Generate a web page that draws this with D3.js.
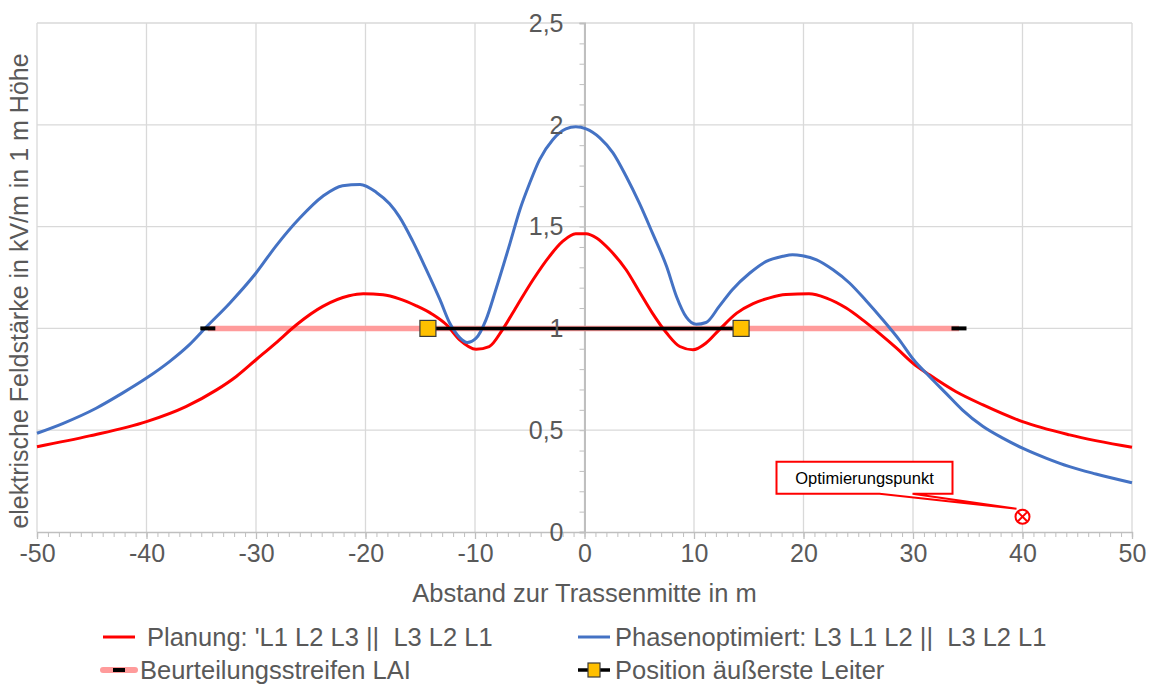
<!DOCTYPE html>
<html>
<head>
<meta charset="utf-8">
<script src="https://cdn.jsdelivr.net/npm/d3@7"></script>
<style>
  html, body { margin: 0; padding: 0; background: #fff; }
  svg { display: block; font-family: "Liberation Sans", Arial, sans-serif; }
  text { white-space: pre; }
</style>
</head>
<body>
<svg id="chart" width="1149" height="686"></svg>
<script>
// Abstand zur Trassenmitte (m) und elektrische Feldstärke (kV/m), Planung
const planungX = [-50, -45.2, -40, -36.4, -33.6, -31.8, -30, -28.2, -26.3, -23.9, -21.5, -20.2, -18.4, -16.9, -15.4, -13.9, -12.6, -11.4, -9.9, -8.7, -7.5, -6.2, -4.7, -3.2, -2.0, -0.8, 0.15, 1.1, 2.3, 3.8, 5.0, 6.2, 7.5, 8.7, 9.9, 11.1, 12.3, 13.9, 15.4, 16.9, 18.4, 20.5, 22.1, 23.9, 25.4, 26.9, 28.5, 30, 31.5, 33.9, 36.4, 40, 44.3, 50];
const planungY = [0.419, 0.472, 0.542, 0.616, 0.698, 0.764, 0.846, 0.928, 1.018, 1.108, 1.160, 1.170, 1.165, 1.145, 1.112, 1.070, 1.018, 0.944, 0.898, 0.911, 0.993, 1.108, 1.239, 1.354, 1.427, 1.465, 1.465, 1.444, 1.386, 1.288, 1.181, 1.075, 0.977, 0.911, 0.895, 0.928, 0.993, 1.075, 1.122, 1.150, 1.166, 1.170, 1.149, 1.100, 1.042, 0.977, 0.903, 0.829, 0.772, 0.690, 0.624, 0.542, 0.477, 0.416];

// Phasenoptimierte Anordnung
const optimiertX = [-50, -47.6, -44.6, -42.2, -40, -37.9, -36.1, -34.5, -32.4, -30, -28.2, -26, -23.9, -22.1, -20.5, -19, -17.8, -16.9, -15.7, -14.5, -13.2, -12.3, -11.4, -10.7, -9.9, -9.0, -8.1, -6.8, -5.9, -5.0, -4.1, -2.9, -1.7, -0.8, 0.15, 1.4, 2.6, 3.8, 5.0, 6.2, 7.5, 8.4, 9.3, 10.2, 11.1, 12.3, 13.5, 15.1, 16.6, 18.1, 19.0, 19.9, 21.2, 22.7, 24.2, 25.7, 27.2, 28.8, 30, 31.5, 33, 34.5, 36.4, 38.2, 40, 42.2, 44.3, 46.7, 50];
const optimiertY = [0.485, 0.534, 0.608, 0.682, 0.756, 0.837, 0.919, 1.009, 1.124, 1.272, 1.403, 1.542, 1.649, 1.701, 1.707, 1.668, 1.612, 1.548, 1.430, 1.295, 1.141, 1.025, 0.955, 0.931, 0.952, 1.042, 1.190, 1.419, 1.583, 1.714, 1.829, 1.927, 1.980, 1.990, 1.980, 1.936, 1.862, 1.747, 1.616, 1.469, 1.304, 1.157, 1.055, 1.020, 1.029, 1.108, 1.190, 1.272, 1.329, 1.354, 1.362, 1.357, 1.337, 1.288, 1.223, 1.137, 1.045, 0.940, 0.850, 0.764, 0.682, 0.600, 0.518, 0.461, 0.412, 0.362, 0.321, 0.285, 0.242];

// Beurteilungsstreifen nach LAI (Grenzwertlinie 1 kV/m)
const laiX = [-34.4, 34.2];
const laiY = [1, 1];

// Position der äußersten Leiter
const leiterX = [-14.3, 14.3];
const leiterY = [1, 1];

// Optimierungspunkt
const optPunktX = [40];
const optPunktY = [0.075];
const optPunktLabel = "Optimierungspunkt";

// Achsen
const xTicks = [-50, -40, -30, -20, -10, 0, 10, 20, 30, 40, 50];
const yTicks = [0, 0.5, 1, 1.5, 2, 2.5];
const xTitle = "Abstand zur Trassenmitte in m";
const yTitle = "elektrische Feldstärke in kV/m in 1 m Höhe";

// Legende
const legendLabels = [
  "Planung: 'L1 L2 L3 ||  L3 L2 L1",
  "Phasenoptimiert: L3 L1 L2 ||  L3 L2 L1",
  "Beurteilungsstreifen LAI",
  "Position äußerste Leiter"
];

const colors = {
  planung: "#FF0000",
  optimiert: "#4472C4",
  lai: "#FF9B9B",
  leiter: "#000000",
  marker: "#FFC000",
  grid: "#D9D9D9",
  axis: "#BFBFBF",
  text: "#595959"
};

const FS = 25;
const FS_LEG = 25.5;

const svg = d3.select("#chart");
const margin = { left: 37, right: 17, top: 23, bottom: 154 };
const W = 1149, H = 686;

const x = d3.scaleLinear().domain([-50, 50]).range([margin.left, W - margin.right]);
const y = d3.scaleLinear().domain([0, 2.5]).range([H - margin.bottom, margin.top]);

const zip = (xs, ys) => xs.map((v, i) => ({ x: v, y: ys[i] }));

// Gitternetz
const grid = svg.append("g");
grid.selectAll("line.v").data(xTicks).join("line")
  .attr("x1", d => x(d)).attr("x2", d => x(d))
  .attr("y1", y(2.5)).attr("y2", y(0))
  .attr("stroke", colors.grid).attr("stroke-width", 1.3);
grid.selectAll("line.h").data(yTicks.filter(d => d > 0)).join("line")
  .attr("x1", x(-50)).attr("x2", x(50))
  .attr("y1", d => y(d)).attr("y2", d => y(d))
  .attr("stroke", colors.grid).attr("stroke-width", 1.3);

// X-Achse mit Teilstrichen
const xAxisG = svg.append("g").attr("transform", `translate(0,${y(0)})`);
xAxisG.call(d3.axisBottom(x).tickValues(d3.range(-50, 51, 1)).tickSize(5).tickFormat(""));
xAxisG.selectAll("path.domain").attr("stroke", colors.axis).attr("stroke-width", 1.3);
xAxisG.selectAll(".tick line").attr("stroke", colors.axis).attr("stroke-width", 1);
const xMajor = svg.append("g").attr("transform", `translate(0,${y(0)})`);
xMajor.call(d3.axisBottom(x).tickValues(xTicks).tickSize(7).tickFormat(d => String(d)));
xMajor.select("path.domain").remove();
xMajor.selectAll(".tick line").attr("stroke", colors.axis).attr("stroke-width", 1.3);
xMajor.selectAll(".tick text")
  .attr("fill", colors.text).attr("font-size", FS).attr("dy", "0.35em").attr("y", 21)
  .style("font-family", "'Liberation Sans', Arial, sans-serif");

// Y-Achse bei x = 0 mit Teilstrichen
const yAxisG = svg.append("g").attr("transform", `translate(${x(0)},0)`);
yAxisG.call(d3.axisLeft(y).tickValues(d3.range(0, 26, 1).map(d => d / 10)).tickSize(5).tickFormat(""));
yAxisG.selectAll("path.domain").attr("stroke", colors.axis).attr("stroke-width", 2);
yAxisG.selectAll(".tick line").attr("stroke", colors.axis).attr("stroke-width", 1);

// LAI-Streifen
const lineGen = d3.line().x(d => x(d.x)).y(d => y(d.y));
svg.append("path").datum(zip(laiX, laiY))
  .attr("d", lineGen).attr("fill", "none")
  .attr("stroke", colors.lai).attr("stroke-width", 5.5);

// Feldstärkekurven
const curveGen = d3.line().x(d => x(d.x)).y(d => y(d.y)).curve(d3.curveMonotoneX);
svg.append("path").datum(zip(planungX, planungY))
  .attr("d", curveGen).attr("fill", "none")
  .attr("stroke", colors.planung).attr("stroke-width", 3).attr("stroke-linejoin", "round");
svg.append("path").datum(zip(optimiertX, optimiertY))
  .attr("d", curveGen).attr("fill", "none")
  .attr("stroke", colors.optimiert).attr("stroke-width", 3).attr("stroke-linejoin", "round");

// Endmarken des LAI-Streifens
svg.selectAll("rect.laiEnd").data(zip(laiX, laiY)).join("rect")
  .attr("x", d => x(d.x) - 7.5).attr("y", d => y(d.y) - 2)
  .attr("width", 15).attr("height", 4).attr("fill", "#000");

// Linie zwischen den äußersten Leitern
svg.append("path").datum(zip(leiterX, leiterY))
  .attr("d", lineGen).attr("fill", "none")
  .attr("stroke", colors.leiter).attr("stroke-width", 3.5);
svg.selectAll("rect.leiter").data(zip(leiterX, leiterY)).join("rect")
  .attr("x", d => x(d.x) - 8).attr("y", d => y(d.y) - 8)
  .attr("width", 16).attr("height", 16)
  .attr("fill", colors.marker).attr("stroke", "#3a3a3a").attr("stroke-width", 1.2);

// Y-Achsenbeschriftung (über den Kurven)
svg.append("g").selectAll("text").data(yTicks).join("text")
  .attr("x", x(0) - 21).attr("y", d => y(d))
  .attr("dy", "0.35em").attr("text-anchor", "end")
  .attr("fill", colors.text).attr("font-size", FS)
  .text(d => String(d).replace(".", ","));

// Optimierungspunkt mit Legendenfeld
const op = zip(optPunktX, optPunktY)[0];
const px = x(op.x), py = y(op.y);
const bx0 = px - 246, bx1 = px - 70, by0 = py - 55, by1 = py - 23;
svg.append("path")
  .attr("d", `M${bx0},${by0} H${bx1} V${by1} H${px - 110} L${px - 6},${py - 8} L${px - 143},${by1} H${bx0} Z`)
  .attr("fill", "#fff").attr("stroke", colors.planung).attr("stroke-width", 2);
svg.append("text")
  .attr("x", (bx0 + bx1) / 2).attr("y", (by0 + by1) / 2)
  .attr("dy", "0.35em").attr("text-anchor", "middle")
  .attr("font-size", 16.5).attr("fill", "#000")
  .text(optPunktLabel);
svg.append("circle").attr("cx", px).attr("cy", py).attr("r", 7)
  .attr("fill", "#fff").attr("stroke", colors.planung).attr("stroke-width", 2);
const k = 4.6;
svg.append("path")
  .attr("d", `M${px - k},${py - k} L${px + k},${py + k} M${px - k},${py + k} L${px + k},${py - k}`)
  .attr("stroke", colors.planung).attr("stroke-width", 2);

// Achsentitel
svg.append("text")
  .attr("x", x(0)).attr("y", 593).attr("dy", "0.35em")
  .attr("text-anchor", "middle").attr("fill", colors.text).attr("font-size", FS_LEG)
  .text(xTitle);
svg.append("text")
  .attr("transform", `translate(19,291) rotate(-90)`)
  .attr("dy", "0.35em")
  .attr("text-anchor", "middle").attr("fill", colors.text).attr("font-size", FS)
  .text(yTitle);

// Legende
const leg = svg.append("g").attr("font-size", FS_LEG).attr("fill", colors.text);
const rowY = [637, 670];
const colX = [103, 578];
// Planung
leg.append("line").attr("x1", colX[0]).attr("x2", colX[0] + 32).attr("y1", rowY[0]).attr("y2", rowY[0])
  .attr("stroke", colors.planung).attr("stroke-width", 3);
leg.append("text").attr("x", 147).attr("y", rowY[0]).attr("dy", "0.35em").attr("fill", colors.text).text(legendLabels[0]);
// Phasenoptimiert
leg.append("line").attr("x1", colX[1]).attr("x2", colX[1] + 32).attr("y1", rowY[0]).attr("y2", rowY[0])
  .attr("stroke", colors.optimiert).attr("stroke-width", 3);
leg.append("text").attr("x", 615).attr("y", rowY[0]).attr("dy", "0.35em").attr("fill", colors.text).text(legendLabels[1]);
// LAI
leg.append("line").attr("x1", colX[0]).attr("x2", colX[0] + 32).attr("y1", rowY[1]).attr("y2", rowY[1])
  .attr("stroke", colors.lai).attr("stroke-width", 6).attr("stroke-linecap", "round");
leg.append("rect").attr("x", colX[0] + 10).attr("y", rowY[1] - 2).attr("width", 12).attr("height", 4).attr("fill", "#000");
leg.append("text").attr("x", 140).attr("y", rowY[1]).attr("dy", "0.35em").attr("fill", colors.text).text(legendLabels[2]);
// Leiter
leg.append("line").attr("x1", colX[1]).attr("x2", colX[1] + 32).attr("y1", rowY[1]).attr("y2", rowY[1])
  .attr("stroke", "#000").attr("stroke-width", 3.5);
leg.append("rect").attr("x", colX[1] + 10).attr("y", rowY[1] - 7).attr("width", 12).attr("height", 14)
  .attr("fill", colors.marker).attr("stroke", "#3a3a3a").attr("stroke-width", 1.2);
leg.append("text").attr("x", 615).attr("y", rowY[1]).attr("dy", "0.35em").attr("fill", colors.text).text(legendLabels[3]);
</script>
</body>
</html>
